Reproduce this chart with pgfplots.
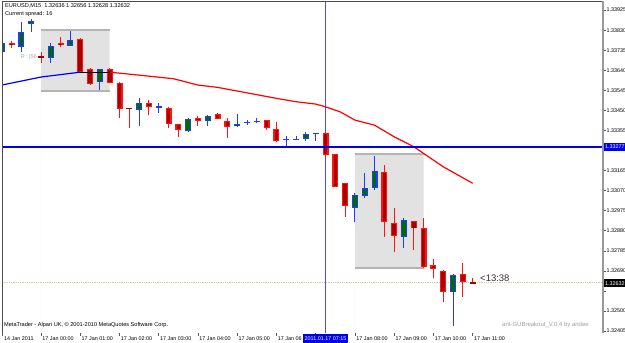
\documentclass[border=0pt]{standalone}
\usepackage{fontspec}
\setmainfont{Liberation Sans}
\usepackage{pgfplots}
\pgfplotsset{compat=1.18}
\usepackage{pgfplotstable}
\definecolor{bearout}{HTML}{FF1414}
\definecolor{bearin}{HTML}{A80000}
\definecolor{bullout}{HTML}{1E3CFF}
\definecolor{bullin}{HTML}{006A00}
\definecolor{boxfill}{HTML}{E2E2E2}
\definecolor{boxedge}{HTML}{B4B4B4}
\definecolor{bidline}{HTML}{D6C6A6}
\definecolor{lvlblue}{HTML}{0000F0}
\definecolor{vblue}{HTML}{4A4AFF}
\definecolor{mablue}{HTML}{0000FF}
\definecolor{mared}{HTML}{FF0000}
\newcommand\sm{\fontsize{5.4}{6}\selectfont}

\pgfplotstableread{
i O H L C
-4 1.33726 1.33778 1.33717 1.33769
-2 1.33750 1.33868 1.33726 1.33821
-1 1.33859 1.33882 1.33821 1.33873
1 1.33698 1.33769 1.33674 1.33755
3 1.33755 1.33826 1.33755 1.33783
6 1.33584 1.33646 1.33546 1.33646
10 1.33452 1.33508 1.33376 1.33485
15 1.33352 1.33415 1.33347 1.33409
17 1.33401 1.33428 1.33376 1.33425
20 1.33374 1.33434 1.33371 1.33384
27 1.33314 1.33349 1.33305 1.33336
32 1.32986 1.33057 1.32923 1.33049
33 1.33046 1.33152 1.33036 1.33084
34 1.33084 1.33235 1.33073 1.33163
37 1.32852 1.32942 1.32797 1.32931
42 1.32591 1.32674 1.32430 1.32670
}\bull

\pgfplotstableread{
i O H L C
-3 1.33769 1.33778 1.33745 1.33758
2 1.33767 1.33797 1.33750 1.33758
4 1.33788 1.33792 1.33627 1.33631
5 1.33646 1.33650 1.33570 1.33575
7 1.33646 1.33650 1.33579 1.33579
8 1.33579 1.33584 1.33414 1.33456
11 1.33485 1.33499 1.33428 1.33466
13 1.33461 1.33466 1.33366 1.33385
14 1.33385 1.33385 1.33324 1.33357
16 1.33415 1.33425 1.33376 1.33401
18 1.33431 1.33436 1.33409 1.33409
19 1.33399 1.33415 1.33320 1.33371
23 1.33404 1.33404 1.33358 1.33366
24 1.33362 1.33396 1.33299 1.33305
29 1.33341 1.33357 1.33223 1.33238
30 1.33242 1.33243 1.33087 1.33088
31 1.33104 1.33106 1.32946 1.32998
35 1.33159 1.33191 1.32852 1.32920
36 1.32918 1.32986 1.32781 1.32856
38 1.32926 1.32926 1.32789 1.32891
39 1.32894 1.32939 1.32705 1.32710
40 1.32718 1.32746 1.32655 1.32699
41 1.32689 1.32694 1.32541 1.32591
43 1.32677 1.32726 1.32567 1.32638
}\bear

\pgfplotstableread{
i O H L C
12 1.33466 1.33485 1.33437 1.33466
21 1.33393 1.33404 1.33380 1.33393
22 1.33399 1.33414 1.33390 1.33399
25 1.33311 1.33327 1.33273 1.33311
26 1.33314 1.33327 1.33308 1.33314
28 1.33339 1.33339 1.33305 1.33339
}\dojiup

\pgfplotstableread{
i O H L C
0 1.33702 1.33726 1.33674 1.33702
9 1.33461 1.33461 1.33366 1.33458
44 1.32636 1.32656 1.32628 1.32632
}\dojidn

\begin{document}
\begin{tikzpicture}
\useasboundingbox (0,0) rectangle (625pt,343pt);
\fill[white] (0,0) rectangle (625pt,343pt);
\begin{axis}[
  at={(2pt,10pt)}, anchor=south west,
  scale only axis, width=601pt, height=332pt,
  xmin=-3.98, xmax=57.29, ymin=1.32396, ymax=1.33968,
  axis line style={draw=none},
  scaled y ticks=false, scaled x ticks=false,
  tick align=outside, major tick length=3pt,
  tick style={line width=0.6pt, draw=black!65},
  xtick pos=left, ytick pos=right, yticklabel pos=right,
  xtick={-3.9,0,4,8,12,16,20,24,28,32,36,40,44},
  xticklabels={14 Jan 2011,17 Jan 00:00,17 Jan 01:00,17 Jan 02:00,17 Jan 03:00,17 Jan 04:00,17 Jan 05:00,17 Jan 06,,17 Jan 08:00,17 Jan 09:00,17 Jan 10:00,17 Jan 11:00},
  xticklabel style={font=\sm, anchor=north west, inner sep=0pt, xshift=1.2pt, yshift=-0.5pt},
  ytick={1.32405,1.32500,1.32595,1.32690,1.32785,1.32880,1.32975,1.33070,1.33165,1.33260,1.33355,1.33450,1.33545,1.33640,1.33735,1.33830,1.33925},
  yticklabels={1.32405,1.32500,,1.32690,1.32785,1.32880,1.32975,1.33070,1.33165,,1.33355,1.33450,1.33545,1.33640,1.33735,1.33830,1.33925},
  yticklabel style={font=\sm, anchor=west, inner sep=0pt, xshift=0.5pt},
]
% range boxes
\addplot[fill=boxfill, draw=none, mark=none] coordinates {(0,1.33541) (7,1.33541) (7,1.33830) (0,1.33830)} \closedcycle;
\addplot[draw=boxedge, line width=2pt, mark=none] coordinates {(0,1.33830) (7,1.33830)};
\addplot[draw=boxedge, line width=2pt, mark=none] coordinates {(0,1.33541) (7,1.33541)};
\addplot[fill=boxfill, draw=none, mark=none] coordinates {(32,1.32702) (39,1.32702) (39,1.33242) (32,1.33242)} \closedcycle;
\addplot[draw=boxedge, line width=2pt, mark=none] coordinates {(32,1.33242) (39,1.33242)};
\addplot[draw=boxedge, line width=2pt, mark=none] coordinates {(32,1.32702) (39,1.32702)};
% bid line
\addplot[draw=bidline, line width=0.8pt, densely dotted, mark=none] coordinates {(-4,1.32637) (58,1.32637)};
% time line (behind candles)
\addplot[draw=vblue, line width=1.2pt, mark=none] coordinates {(29,1.32390) (29,1.33970)};
% wicks
\addplot[draw=none, mark=none, error bars/.cd, y dir=plus, y explicit, error mark=none,
  error bar style={line width=1pt, draw=bullout}]
  table[x=i, y=L, y error plus expr=\thisrow{H}-\thisrow{L}] {\bull};
\addplot[draw=none, mark=none, error bars/.cd, y dir=plus, y explicit, error mark=none,
  error bar style={line width=1pt, draw=bearout}]
  table[x=i, y=L, y error plus expr=\thisrow{H}-\thisrow{L}] {\bear};
\addplot[draw=none, mark=none, error bars/.cd, y dir=plus, y explicit, error mark=none,
  error bar style={line width=1pt, draw=bullout}]
  table[x=i, y=L, y error plus expr=\thisrow{H}-\thisrow{L}] {\dojiup};
\addplot[draw=none, mark=none, error bars/.cd, y dir=plus, y explicit, error mark=none,
  error bar style={line width=1pt, draw=bearout}]
  table[x=i, y=L, y error plus expr=\thisrow{H}-\thisrow{L}] {\dojidn};
% bodies
\addplot[draw=none, mark=none, error bars/.cd, y dir=plus, y explicit, error mark=none,
  error bar style={line width=6pt, draw=bullout}]
  table[x=i, y=O, y error plus expr=\thisrow{C}-\thisrow{O}] {\bull};
\addplot[draw=none, mark=none, error bars/.cd, y dir=plus, y explicit, error mark=none,
  error bar style={line width=3.8pt, draw=bullin, shorten <=0.9pt, shorten >=0.9pt}]
  table[x=i, y=O, y error plus expr=\thisrow{C}-\thisrow{O}] {\bull};
\addplot[draw=none, mark=none, error bars/.cd, y dir=plus, y explicit, error mark=none,
  error bar style={line width=6pt, draw=bearout}]
  table[x=i, y=C, y error plus expr=\thisrow{O}-\thisrow{C}] {\bear};
\addplot[draw=none, mark=none, error bars/.cd, y dir=plus, y explicit, error mark=none,
  error bar style={line width=3.6pt, draw=bearin, shorten <=0.9pt, shorten >=0.9pt}]
  table[x=i, y=C, y error plus expr=\thisrow{O}-\thisrow{C}] {\bear};
% doji bars
\addplot[only marks, mark=-, mark size=3pt, mark options={draw=bullout, line width=1.2pt}]
  table[x=i, y=C] {\dojiup};
\addplot[only marks, mark=-, mark size=3pt, mark options={draw=bearin, line width=1.4pt}]
  table[x=i, y=C] {\dojidn};
% moving average
\addplot[draw=mablue, line width=1.2pt, mark=none] coordinates {(-4,1.33570) (0,1.33608) (4,1.33631)};
\addplot[draw=black, line width=1.2pt, mark=none] coordinates {(4,1.33631) (7,1.33631)};
\addplot[draw=mared, line width=1.2pt, mark=none] coordinates {(7,1.33631) (10,1.33617) (13.5,1.33600) (16,1.33570) (18,1.33559) (21,1.33533) (24,1.33507) (26,1.33491) (28,1.33480) (29,1.33467) (30.5,1.33443) (32,1.33404) (34,1.33380) (36,1.33325) (38,1.33278) (41,1.33183) (44,1.33105)};
% level line
\addplot[draw=lvlblue, line width=1.3pt, mark=none] coordinates {(-4,1.33277) (58,1.33277)};
\coordinate (hlA) at (axis cs:57.29,1.33277);
\coordinate (hlB) at (axis cs:57.29,1.32632);
\coordinate (hlT) at (axis cs:29,1.32396);
\end{axis}
% frame
\draw[black!70, line width=0.9pt] (2pt,10pt) -- (2pt,342pt) -- (603pt,342pt);
\draw[black!40, line width=1.2pt] (603pt,342pt) -- (603pt,10pt);
% highlighted labels
\node[fill=lvlblue, text=white, font=\sm, anchor=west, inner xsep=1pt, inner ysep=0pt, minimum height=8pt] at ([xshift=1pt]hlA) {1.33277};
\node[fill=black, text=white, font=\sm, anchor=west, inner xsep=1pt, inner ysep=0pt, minimum height=8pt] at ([xshift=1pt]hlB) {1.32632};
\node[fill=lvlblue, text=white, font=\sm, anchor=north, inner xsep=2pt, inner ysep=0pt, minimum height=9pt] at ([yshift=-0.5pt]hlT) {2011.01.17 07:15};
% texts
\node[anchor=west, inner sep=0pt, font=\fontsize{5.6}{6}\selectfont] at (5pt,337pt) {EURUSD,M15\ \ 1.32636 1.32656 1.32628 1.32632};
\node[anchor=west, inner sep=0pt, font=\fontsize{5.6}{6}\selectfont] at (5pt,329pt) {Current spread: 16};
\node[anchor=east, inner sep=0pt, font=\sm, text=black!35] at (37pt,286pt) {R : [56};
\node[anchor=west, inner sep=0pt, font=\fontsize{9.5}{10}\selectfont, text=black!80] at (480pt,65pt) {<13:38};
\node[anchor=west, inner sep=0pt, font=\fontsize{5.6}{6}\selectfont] at (4pt,18pt) {MetaTrader - Alpari UK, © 2001-2010 MetaQuotes Software Corp.};
\node[anchor=west, inner sep=0pt, font=\fontsize{6}{6}\selectfont, text=black!38] at (502pt,18pt) {ant-GUBreakout\_V.0.4 by andee};
\end{tikzpicture}
\end{document}
